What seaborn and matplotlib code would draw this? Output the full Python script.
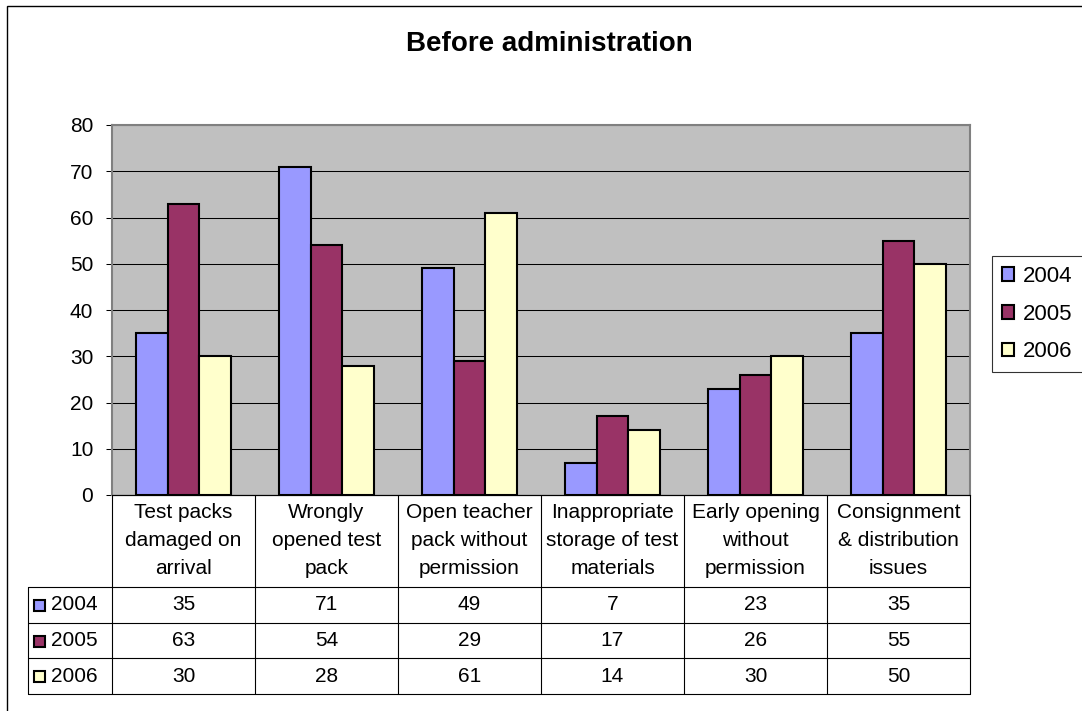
import matplotlib
matplotlib.use("Agg")
import matplotlib.pyplot as plt
import pandas as pd
import seaborn as sns
from matplotlib.patches import Patch, Rectangle
from matplotlib.lines import Line2D
from matplotlib.transforms import blended_transform_factory

# ---- data -----------------------------------------------------------------
categories = [
    "Test packs\ndamaged on\narrival",
    "Wrongly\nopened test\npack",
    "Open teacher\npack without\npermission",
    "Inappropriate\nstorage of test\nmaterials",
    "Early opening\nwithout\npermission",
    "Consignment\n& distribution\nissues",
]
years = ["2004", "2005", "2006"]
values_2004 = [35, 71, 49, 7, 23, 35]
values_2005 = [63, 54, 29, 17, 26, 55]
values_2006 = [30, 28, 61, 14, 30, 50]
y_ticks = [0, 10, 20, 30, 40, 50, 60, 70, 80]
title = "Before administration"

series = {"2004": values_2004, "2005": values_2005, "2006": values_2006}
colors = {"2004": "#9999FF", "2005": "#993366", "2006": "#FFFFCC"}

df = pd.DataFrame(
    [(c, y, v) for y in years for c, v in zip(categories, series[y])],
    columns=["category", "year", "value"],
)

# ---- figure ---------------------------------------------------------------
sns.set_style("white")
plt.rcParams["font.family"] = ["Liberation Sans", "DejaVu Sans"]
plt.rcParams["text.color"] = "black"
plt.rcParams["ytick.color"] = "black"
plt.rcParams["ytick.labelcolor"] = "black"

W, H = 1082, 711
fig = plt.figure(figsize=(W / 100, H / 100), dpi=100)
fig.patch.set_facecolor("white")

def fx(px):
    return px / W

def fy(py):
    return 1 - py / H

ax = fig.add_axes([fx(112), fy(495), fx(970) - fx(112), fy(125) - fy(495)])
ax.set_facecolor("#C0C0C0")

sns.barplot(
    data=df, x="category", y="value", hue="year", order=categories,
    hue_order=years, palette=colors, width=0.66, gap=0,
    edgecolor="black", linewidth=1.5, saturation=1, legend=False, ax=ax,
)

ax.set_xlim(-0.5, len(categories) - 0.5)
ax.set_ylim(y_ticks[0], y_ticks[-1])
ax.set_yticks(y_ticks)
ax.set_xticks([])
ax.set_xlabel("")
ax.set_ylabel("")
ax.yaxis.grid(True, color="black", linewidth=0.75)
ax.set_axisbelow(True)
ax.tick_params(axis="y", direction="out", length=4.5, width=0.75,
               color="black", labelcolor="black", pad=9, labelsize=15,
               left=True)
for side in ["left", "top", "right"]:
    ax.spines[side].set_color("#808080")
    ax.spines[side].set_linewidth(1.5)
ax.spines["bottom"].set_color("black")
ax.spines["bottom"].set_linewidth(0.8)

# ---- data table under the plot --------------------------------------------
tr = blended_transform_factory(ax.transData, fig.transFigure)
label_left = -0.5 - 84 / 143
col_edges = [i - 0.5 for i in range(len(categories) + 1)]
row_edges = [495, 587, 623, 658, 694]
line_kw = dict(color="black", linewidth=0.8, transform=tr, clip_on=False)

for x in col_edges:
    fig.add_artist(Line2D([x, x], [fy(row_edges[0]), fy(row_edges[-1])], **line_kw))
fig.add_artist(Line2D([label_left, label_left], [fy(row_edges[1]), fy(row_edges[-1])], **line_kw))
fig.add_artist(Line2D([col_edges[0], col_edges[-1]], [fy(row_edges[0])] * 2, **line_kw))
for r in row_edges[1:]:
    fig.add_artist(Line2D([label_left, col_edges[-1]], [fy(r)] * 2, **line_kw))

header_mid = (row_edges[0] + row_edges[1]) / 2
for i, cat in enumerate(categories):
    fig.text(i, fy(header_mid), cat, transform=tr, ha="center", va="center",
             fontsize=15, linespacing=1.6, multialignment="center")

for r, year in enumerate(years):
    mid = (row_edges[r + 1] + row_edges[r + 2]) / 2
    for i, v in enumerate(series[year]):
        fig.text(i, fy(mid), str(v), transform=tr, ha="center", va="center",
                 fontsize=15)
    fig.add_artist(Rectangle((fx(34), fy(mid + 6)), fx(11), fy(0) - fy(11),
                             facecolor=colors[year], edgecolor="black",
                             linewidth=1.5, transform=fig.transFigure))
    fig.text(fx(51), fy(mid), year, ha="left", va="center", fontsize=15)

# ---- legend ---------------------------------------------------------------
handles = [Patch(facecolor=colors[y], edgecolor="black", linewidth=1.5) for y in years]
leg = fig.legend(
    handles, years, loc="upper left", bbox_to_anchor=(fx(992), fy(256)),
    bbox_transform=fig.transFigure, fontsize=16, frameon=True, fancybox=False,
    borderaxespad=0, borderpad=0.45, handlelength=0.55, handleheight=0.55,
    handletextpad=0.4, labelspacing=0.75,
)
leg.get_frame().set_edgecolor("black")
leg.get_frame().set_linewidth(0.8)
for t in leg.get_texts():
    t.set_color("black")

# ---- title and chart border -----------------------------------------------
fig.text(fx(549), fy(44), title, ha="center", va="center", fontsize=20,
         fontweight="bold", color="black")
fig.add_artist(Rectangle((fx(7), fy(740)), 2, fy(6) - fy(740), fill=False,
                         edgecolor="black", linewidth=1,
                         transform=fig.transFigure))

fig.savefig("out.png", dpi=100)
